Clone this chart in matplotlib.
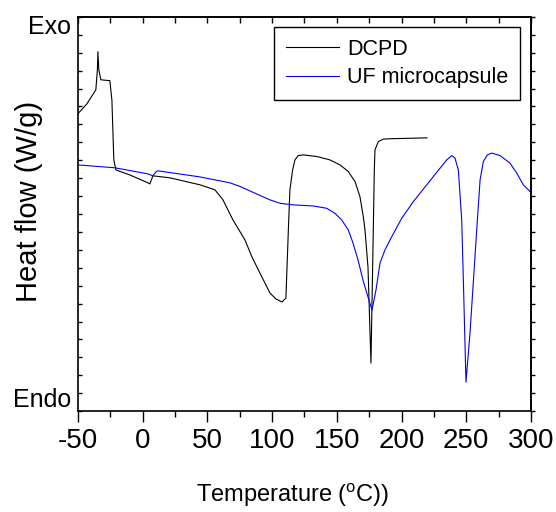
import numpy as np
import matplotlib
matplotlib.use('Agg')
import matplotlib.pyplot as plt

plt.rcParams['font.family'] = ['Liberation Sans', 'DejaVu Sans']
plt.rcParams['mathtext.fontset'] = 'custom'
plt.rcParams['mathtext.rm'] = 'Liberation Sans'

# DCPD curve (temperature in C, heat flow in arbitrary units)
dcpd_t = [-50, -43.0, -36.1, -34.9, -34.5, -33.8, -32.2, -25.3, -23.7, -22.2, -20.6,
          -9.8, 4.1, 5.6, 8.0, 21.1, 44.3, 55.9, 62.1, 69.8, 79.1, 84.5, 90.6, 98.4,
          103.0, 107.7, 110.7, 112.0, 112.8, 113.8, 115.9, 117.7, 120.2, 124.1, 134.5,
          144.7, 152.5, 158.9, 164.1, 167.9, 170.5, 171.8, 174.1, 176.4, 178.2, 179.0,
          179.5, 182.1, 185.9, 191.1, 219.7]
dcpd_hf = [16.59, 17.15, 17.93, 19.05, 20.06, 19.05, 18.49, 18.44, 17.37, 14.02, 13.46,
           13.18, 12.74, 12.68, 13.13, 13.02, 12.63, 12.35, 11.79, 10.67, 9.55, 8.60, 7.71, 6.59,
           6.26, 6.09, 6.31, 8.90, 10.50, 12.35, 13.46, 14.02, 14.26, 14.30, 14.21,
           14.02, 13.74, 13.37, 12.81, 11.97, 10.85, 10.11, 8.04, 2.68, 10.11, 13.46,
           14.58, 15.04, 15.18, 15.20, 15.25]

# UF microcapsule curve
uf_t = [-50, -21.4, 4.1, 8.0, 10.3, 11.8, 44.3, 67.5, 75.2, 82.9, 90.6, 98.4, 106.1,
        116.4, 131.8, 142.2, 148.6, 153.8, 158.9, 162.5, 166.4, 170.2, 174.1, 177.2,
        180.3, 183.4, 187.2, 191.1, 200.2, 209.1, 219.5, 229.8, 234.9, 238.8, 241.3,
        243.9, 246.5, 247.5, 249.8, 252.9, 258.6, 260.7, 263.2, 266.3, 269.7, 276.1,
        283.8, 289.0, 294.1, 299.3]
uf_hf = [13.74, 13.58, 13.24, 13.13, 13.35, 13.41, 13.07, 12.74, 12.54, 12.29, 12.04, 11.79, 11.60,
         11.51, 11.45, 11.32, 11.04, 10.67, 10.11, 9.39, 8.44, 7.32, 6.37, 5.64,
         6.76, 8.27, 8.99, 9.55, 10.77, 11.69, 12.63, 13.56, 14.02, 14.26, 14.12,
         13.46, 10.67, 8.04, 1.62, 4.36, 10.67, 12.91, 13.93, 14.30, 14.40, 14.26,
         13.84, 13.28, 12.63, 12.25]

xticks = [-50, 0, 50, 100, 150, 200, 250, 300]

fig = plt.figure(figsize=(5.56, 5.12), dpi=100)
ax = fig.add_axes([0.140, 0.197, 0.815, 0.770])

ax.plot(dcpd_t, dcpd_hf, color='black', lw=0.8, label='DCPD')
ax.plot(uf_t, uf_hf, color='#0000ff', lw=0.8, label='UF microcapsule')

ax.set_xlim(-50, 300)
ax.set_ylim(0, 22)
ax.set_xticks(xticks)
ax.set_xticklabels([str(v) for v in xticks], fontsize=20)
ax.set_xticks(np.arange(-25, 300, 50), minor=True)
ax.tick_params(axis='x', which='major', direction='out', length=8, width=1, pad=4, top=False)
ax.tick_params(axis='x', which='minor', direction='out', length=4, width=1, top=False)
ax.set_yticks(np.arange(0, 23, 1))
ax.set_yticklabels([])
ax.tick_params(axis='y', direction='in', length=3, width=1, right=False)

top = ax.secondary_xaxis('top')
top.set_xticks(np.arange(-50, 301, 25))
top.set_xticklabels([])
top.tick_params(direction='in', length=4, width=1)
right = ax.secondary_yaxis('right')
right.set_yticks(np.arange(0, 23, 1))
right.set_yticklabels([])
right.tick_params(direction='out', length=3, width=1)

for s in list(ax.spines.values()) + list(top.spines.values()) + list(right.spines.values()):
    s.set_linewidth(1.2)

ax.text(-0.015, 0.975, 'Exo', transform=ax.transAxes, ha='right', va='center', fontsize=18)
ax.text(-0.015, 0.028, 'Endo', transform=ax.transAxes, ha='right', va='center', fontsize=18)

ax.set_xlabel(r'Temperature ($^{\mathrm{o}}$C))', fontsize=17)
ax.xaxis.set_label_coords(0.475, -0.213)
ax.xaxis.label.set_va('center')
ax.set_ylabel('Heat flow (W/g)', fontsize=21)
ax.yaxis.set_label_coords(-0.077, 0.533)

leg = ax.legend(loc='upper right', bbox_to_anchor=(0.976, 0.975), borderaxespad=0,
                fontsize=15.5, handlelength=2.5, handletextpad=0.35, fancybox=False,
                edgecolor='black', framealpha=1, borderpad=0.55, labelspacing=0.35)
leg.get_frame().set_linewidth(1.0)

fig.savefig('out.png', dpi=100)
